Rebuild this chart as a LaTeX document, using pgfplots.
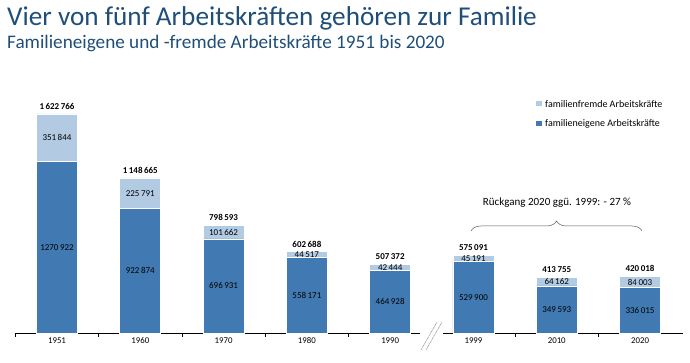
\documentclass[border=0pt]{standalone}
\usepackage{pgfplots}
\pgfplotsset{compat=1.18}
\usepackage{pgfplotstable}
\usepackage{fontspec}
\setmainfont{Carlito}
\usetikzlibrary{decorations.pathreplacing}
\definecolor{dark}{RGB}{65,122,178}
\definecolor{light}{RGB}{178,203,227}
\definecolor{titleblue}{RGB}{31,78,121}

\pgfplotstableread{
x a b tot la lb lt
0 1270922 351844 1622766 {1270\,922} {351\,844} {1\,622\,766}
1 922874 225791 1148665 {922\,874} {225\,791} {1\,148\,665}
2 696931 101662 798593 {696\,931} {101\,662} {798\,593}
3 558171 44517 602688 {558\,171} {44\,517} {602\,688}
4 464928 42444 507372 {464\,928} {42\,444} {507\,372}
5 529900 45191 575091 {529\,900} {45\,191} {575\,091}
6 349593 64162 413755 {349\,593} {64\,162} {413\,755}
7 336015 84003 420018 {336\,015} {84\,003} {420\,018}
}\datatab

\pgfplotsset{
  common/.style={
    scale only axis, width=668pt, height=243pt,
    xmin=-0.5, xmax=7.52, ymin=0, ymax=1800000,
    at={(57pt,30pt)}, anchor=origin, clip=false,
  },
}

\begin{document}
\begin{tikzpicture}[x=1pt,y=1pt]
\path[use as bounding box] (0,0) rectangle (690,363);
% titles
\node[anchor=base west, inner sep=0, text=titleblue, font=\fontsize{27.2}{30}\selectfont] at (7,337) {Vier von fünf Arbeitskräften gehören zur Familie};
\node[anchor=base west, inner sep=0, text=titleblue, font=\fontsize{19.2}{22}\selectfont] at (7,314) {Familieneigene und -fremde Arbeitskräfte 1951 bis 2020};

\begin{axis}[common,
  axis y line=none, axis x line*=bottom,
  x axis line style={draw=none},
  xtick={0,...,7}, xticklabels={1951,1960,1970,1980,1990,1999,2010,2020},
  major tick length=0pt,
  xticklabel style={font=\fontsize{8.8}{10}\selectfont, yshift=-1pt},
  extra x ticks={-0.5,0.5,1.5,2.5,3.5,5.5,6.5}, extra x tick labels={},
  extra x tick style={major tick length=4pt, tick align=outside, tick style={black, line width=0.5pt}},
  ybar stacked, bar width=41pt]
\addplot[fill=dark, draw=white, line width=0.6pt] table[x=x,y=a]{\datatab};
\addplot[fill=light, draw=white, line width=0.6pt] table[x=x,y=b]{\datatab};
\draw[black, line width=0.9pt] (axis cs:-0.5,0) -- (axis cs:4.36,0);
\draw[black, line width=0.9pt] (axis cs:4.64,0) -- (axis cs:7.52,0);
\end{axis}

\begin{axis}[common, hide axis]
\addplot[only marks, mark=none, nodes near coords, point meta=explicit symbolic,
  every node near coord/.style={anchor=center, font=\fontsize{9}{10}\selectfont}]
  table[x=x, y expr=\thisrow{a}/2, meta=la]{\datatab};
\addplot[only marks, mark=none, nodes near coords, point meta=explicit symbolic,
  every node near coord/.style={anchor=center, font=\fontsize{9}{10}\selectfont}]
  table[x=x, y expr=\thisrow{a}+\thisrow{b}/2, meta=lb]{\datatab};
\addplot[only marks, mark=none, nodes near coords, point meta=explicit symbolic,
  every node near coord/.style={anchor=south, yshift=1pt, font=\bfseries\fontsize{9}{10}\selectfont}]
  table[x=x, y=tot, meta=lt]{\datatab};
\end{axis}

% brace and note
\draw[gray!70!black, line width=0.5pt, decorate, decoration={brace, amplitude=10pt}] (471,132) -- (642,132);
\node[font=\fontsize{11}{13}\selectfont] at (557,160) {Rückgang 2020 ggü. 1999: - 27 \%};

% break marks
\draw[gray, line width=0.5pt, dash pattern=on 1pt off 0.6pt] (421,13) -- (437,41);
\draw[gray, line width=0.5pt, dash pattern=on 1pt off 0.6pt] (426,13) -- (442,41);

% legend
\fill[light] (536,256.5) rectangle (541.5,262);
\node[anchor=west, inner sep=0, font=\fontsize{10}{11}\selectfont] at (545,259) {familienfremde Arbeitskräfte};
\fill[dark] (536,236.5) rectangle (541.5,242);
\node[anchor=west, inner sep=0, font=\fontsize{10}{11}\selectfont] at (545,239) {familieneigene Arbeitskräfte};
\end{tikzpicture}
\end{document}
